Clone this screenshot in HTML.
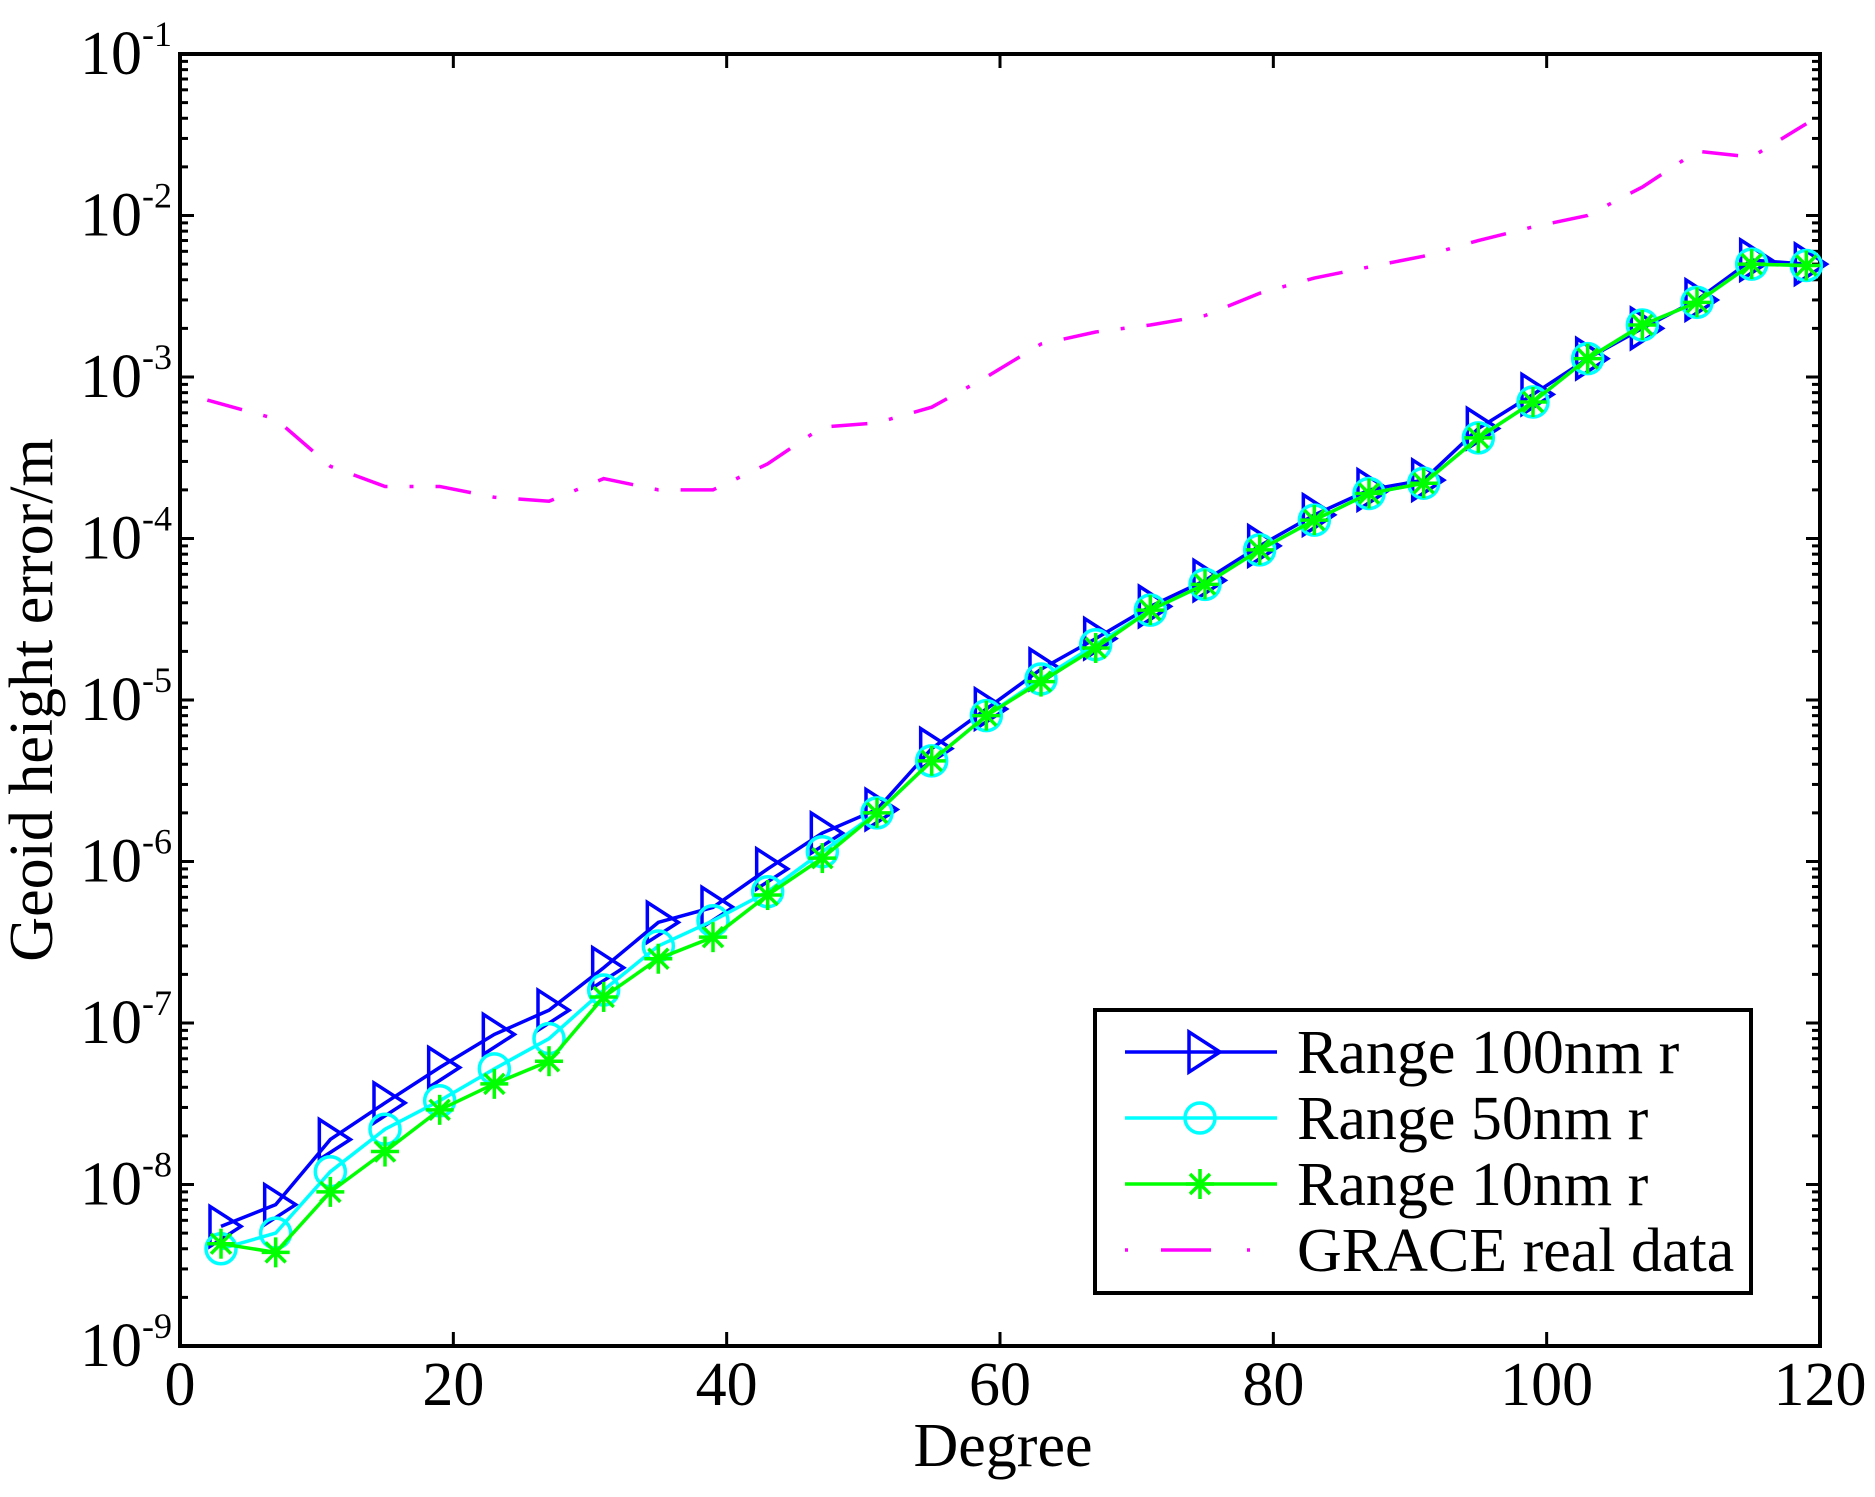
<!DOCTYPE html>
<html><head><meta charset="utf-8"><style>
body{margin:0;background:#fff}
svg text{font-family:"Liberation Serif","Times New Roman",serif;fill:#000}
</style></head><body>
<svg id="c" width="1875" height="1492" viewBox="0 0 1875 1492" font-family="Liberation Serif, serif"></svg>
<script>
const degrees=[3,7,11,15,19,23,27,31,35,39,43,47,51,55,59,63,67,71,75,79,83,87,91,95,99,103,107,111,115,119];
const range100=[5.5e-9,7.5e-9,1.9e-8,3.2e-8,5.3e-8,8.5e-8,1.2e-7,2.2e-7,4.2e-7,5.2e-7,9e-7,1.5e-6,2.1e-6,5e-6,8.8e-6,1.55e-5,2.4e-5,3.8e-5,5.5e-5,9e-5,1.4e-4,2e-4,2.3e-4,4.8e-4,7.8e-4,1.3e-3,2e-3,3e-3,5.3e-3,5e-3];
const range50=[4e-9,5e-9,1.2e-8,2.2e-8,3.3e-8,5.2e-8,8e-8,1.6e-7,3e-7,4.3e-7,6.5e-7,1.15e-6,2e-6,4.2e-6,8e-6,1.35e-5,2.2e-5,3.6e-5,5.2e-5,8.5e-5,1.3e-4,1.9e-4,2.2e-4,4.2e-4,7e-4,1.3e-3,2.1e-3,2.9e-3,5e-3,4.9e-3];
const range10=[4.3e-9,3.8e-9,9e-9,1.6e-8,2.9e-8,4.2e-8,5.8e-8,1.45e-7,2.5e-7,3.4e-7,6.2e-7,1.05e-6,2e-6,4.2e-6,8e-6,1.3e-5,2.1e-5,3.6e-5,5.2e-5,8.5e-5,1.3e-4,1.9e-4,2.2e-4,4.2e-4,7e-4,1.3e-3,2.1e-3,2.9e-3,5e-3,4.9e-3];
const graceDeg=[2,7,11,15,19,23,27,31,35,39,43,47,51,55,59,63,67,71,75,79,83,87,91,95,99,103,107,111,115,119];
const grace=[7.2e-4,5.5e-4,2.8e-4,2.1e-4,2.1e-4,1.8e-4,1.7e-4,2.35e-4,2e-4,2e-4,2.9e-4,4.9e-4,5.2e-4,6.5e-4,1e-3,1.6e-3,1.9e-3,2.1e-3,2.4e-3,3.3e-3,4.1e-3,4.8e-3,5.6e-3,7e-3,8.5e-3,1e-2,1.5e-2,2.5e-2,2.3e-2,3.7e-2];
const xTicks=[0,20,40,60,80,100,120];
const yExps=[-9,-8,-7,-6,-5,-4,-3,-2,-1];

const L=180,R=1820,T=54,B=1346;
const X=v=>L+(v/120)*(R-L);
const Y=v=>B-(Math.log10(v)+9)/8*(B-T);
const svg=document.getElementById('c');
const NS='http://www.w3.org/2000/svg';
function mk(tag,attrs,parent){const e=document.createElementNS(NS,tag);for(const k in attrs)e.setAttribute(k,attrs[k]);if(tag==='text')e.setAttribute('font-family','Liberation Serif, serif');(parent||svg).appendChild(e);return e;}

const box=mk('rect',{x:L,y:T,width:R-L,height:B-T,fill:'none',stroke:'#000','stroke-width':4});



yExps.forEach(e=>{
  const y=Y(Math.pow(10,e));
  const t1=mk('line',{x1:L,y1:y,x2:L+14,y2:y,stroke:'#000','stroke-width':3});
  
  
  mk('line',{x1:R,y1:y,x2:R-14,y2:y,stroke:'#000','stroke-width':3});
  if(e<-1){for(let m=2;m<10;m++){const yy=Y(m*Math.pow(10,e));
    mk('line',{x1:L,y1:yy,x2:L+8,y2:yy,stroke:'#000','stroke-width':3});
    mk('line',{x1:R,y1:yy,x2:R-8,y2:yy,stroke:'#000','stroke-width':3});}}
  const tx=mk('text',{x:172,y:y+20,'text-anchor':'end','font-size':62});
  
  
  const a=mk('tspan',{},tx);a.textContent='10';
  const b=mk('tspan',{dy:-28,'font-size':36},tx);b.textContent=String(e);
});
xTicks.forEach(v=>{
  const x=X(v);
  mk('line',{x1:x,y1:B,x2:x,y2:B-14,stroke:'#000','stroke-width':3});
  mk('line',{x1:x,y1:T,x2:x,y2:T+14,stroke:'#000','stroke-width':3});
  const t=mk('text',{x:x,y:1405,'text-anchor':'middle','font-size':62});
  
  
  t.textContent=v;
});
const xl=mk('text',{x:1003,y:1466,'text-anchor':'middle','font-size':62});


xl.textContent='Degree';
const yl=mk('text',{x:0,y:0,'text-anchor':'middle','font-size':62,transform:'translate(52,700) rotate(-90)'});


yl.textContent='Geoid height error/m';

function marker(kind,x,y,color,g){
  if(kind==='tri'){mk('polygon',{points:`${x-11},${y-20} ${x+20},${y} ${x-11},${y+20}`,fill:'none',stroke:color,'stroke-width':3.5},g);}
  else if(kind==='circ'){mk('circle',{cx:x,cy:y,r:15,fill:'none',stroke:color,'stroke-width':3.5},g);}
  else{[[0,-15,0,15],[-14,0,14,0],[-10,-10,10,10],[-10,10,10,-10]].forEach(d=>mk('line',{x1:x+d[0],y1:y+d[1],x2:x+d[2],y2:y+d[3],stroke:color,'stroke-width':3.5},g));}
}
function series(name,vals,color,kind){
  const g=mk('g',{});
  
  
  mk('polyline',{points:degrees.map((d,i)=>X(d)+','+Y(vals[i])).join(' '),fill:'none',stroke:color,'stroke-width':3.5},g);
  degrees.forEach((d,i)=>marker(kind,X(d),Y(vals[i]),color,g));
}
const gl=mk('polyline',{points:graceDeg.map((d,i)=>X(d)+','+Y(grace[i])).join(' '),fill:'none',stroke:'#ff00ff','stroke-width':3.5,'stroke-dasharray':'36 22 4 22'});


series('range-100nm-series',range100,'#0000ff','tri');
series('range-50nm-series',range50,'#00ffff','circ');
series('range-10nm-series',range10,'#00ff00','star');

const lg=mk('g',{});


mk('rect',{x:1095,y:1010,width:656,height:283,fill:'#fff',stroke:'#000','stroke-width':4},lg);
const ent=[['Range 100nm r','#0000ff','tri'],['Range 50nm r','#00ffff','circ'],['Range 10nm r','#00ff00','star'],['GRACE real data','#ff00ff','dash']];
ent.forEach((e,i)=>{
  const y=1052+i*66;
  const g=mk('g',{},lg);
  
  
  if(e[2]==='dash'){mk('line',{x1:1125,y1:y,x2:1277,y2:y,stroke:e[1],'stroke-width':3.5,'stroke-dasharray':'3 33 50 36 3 100'},g);}
  else{mk('line',{x1:1125,y1:y,x2:1277,y2:y,stroke:e[1],'stroke-width':3.5},g);marker(e[2],1200,y,e[1],g);}
  const t=mk('text',{x:1297,y:y+21,'font-size':62},g);t.textContent=e[0];
});
</script>
</body></html>
